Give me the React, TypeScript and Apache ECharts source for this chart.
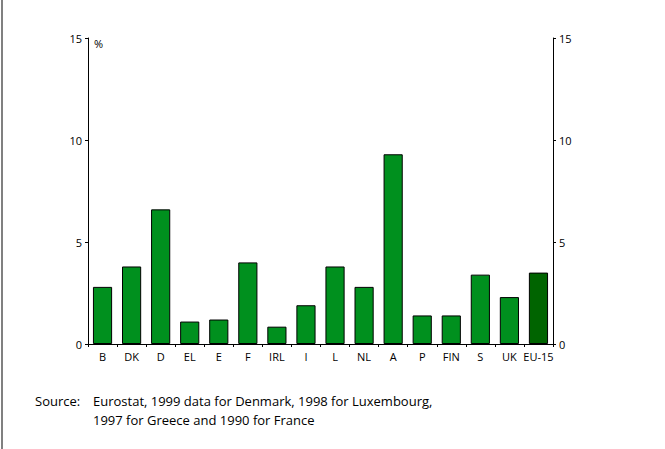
import React, { useEffect, useRef } from "react";
import * as echarts from "echarts";

const categories = ["B", "DK", "D", "EL", "E", "F", "IRL", "I", "L", "NL", "A", "P", "FIN", "S", "UK", "EU-15"];
const values = [2.8, 3.8, 6.6, 1.1, 1.2, 4.0, 0.85, 1.9, 3.8, 2.8, 9.3, 1.4, 1.4, 3.4, 2.3, 3.5];
const sourceLabel = "Source:";
const sourceLine1 = "Eurostat, 1999 data for Denmark, 1998 for Luxembourg,";
const sourceLine2 = "1997 for Greece and 1990 for France";

const FONT = "'Open Sans', 'DejaVu Sans', sans-serif";

export default function App() {
  const ref = useRef<HTMLDivElement>(null);
  useEffect(() => {
    document.body.style.margin = "0";
    const chart = echarts.init(ref.current!, null, { renderer: "svg" });
    const yAxisCommon = {
      type: "value" as const,
      min: 0,
      max: 15,
      interval: 5,
      splitLine: { show: false },
      axisLine: { show: true, lineStyle: { color: "#000", width: 1 } },
      axisTick: { show: true, length: 3, lineStyle: { color: "#000" } },
      axisLabel: { color: "#000", fontSize: 11, fontFamily: FONT, margin: 6 },
    };
    chart.setOption({
      animation: false,
      backgroundColor: "#fff",
      grid: { left: 88, right: 112, top: 38, bottom: 105 },
      xAxis: {
        type: "category",
        data: categories,
        axisLine: { show: true, lineStyle: { color: "#000", width: 1 } },
        axisTick: { show: true, length: 3, alignWithLabel: false, lineStyle: { color: "#000" } },
        axisLabel: { color: "#000", fontSize: 11, fontFamily: FONT, margin: 7, interval: 0 },
      },
      yAxis: [
        { ...yAxisCommon, position: "left" },
        { ...yAxisCommon, position: "right" },
      ],
      series: [
        {
          type: "bar",
          data: values.map((v, i) => ({
            value: v,
            itemStyle: { color: categories[i] === "EU-15" ? "#006400" : "#00901E" },
          })),
          barCategoryGap: "34%",
          itemStyle: { borderColor: "#000", borderWidth: 1 },
        },
      ],
      graphic: [
        { type: "rect", shape: { x: 1, y: 0, width: 2, height: 449 }, style: { fill: "#808080" } },
        { type: "text", left: 94, top: 38, style: { text: "%", fontSize: 11, fontFamily: FONT, fill: "#000" } },
        { type: "text", left: 35, top: 394, style: { text: sourceLabel, fontSize: 13, fontFamily: FONT, fill: "#000" } },
        { type: "text", left: 93, top: 394, style: { text: sourceLine1, fontSize: 13, fontFamily: FONT, fill: "#000" } },
        { type: "text", left: 93, top: 413, style: { text: sourceLine2, fontSize: 13, fontFamily: FONT, fill: "#000" } },
      ],
    });
    return () => chart.dispose();
  }, []);
  return <div ref={ref} style={{ position: "fixed", left: 0, top: 0, width: 665, height: 449 }} />;
}
